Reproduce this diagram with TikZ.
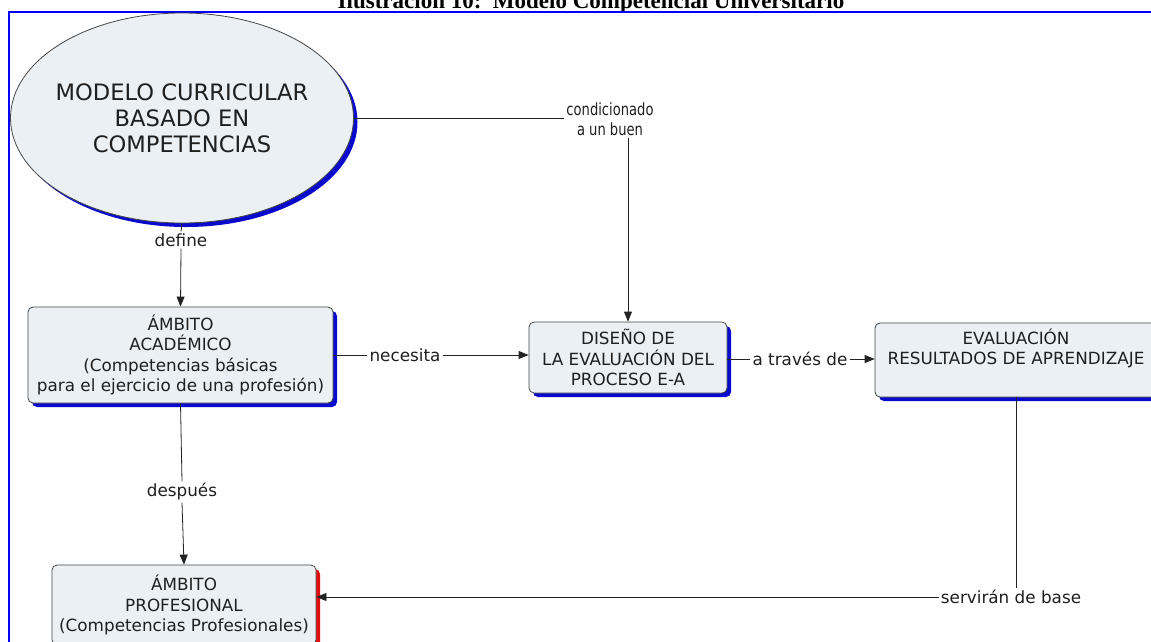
\documentclass[tikz,border=0pt]{standalone}
\usepackage{fontspec}
\setmainfont{DejaVu Sans}
\newfontfamily\titlefont{Liberation Serif}
\usetikzlibrary{shapes.geometric,shadows,arrows.meta}

\definecolor{nodefill}{RGB}{234,240,244}
\definecolor{nodeline}{RGB}{70,70,70}
\definecolor{shblue}{RGB}{10,10,205}
\definecolor{shred}{RGB}{225,15,15}
\definecolor{linkgray}{RGB}{35,35,35}
\definecolor{frameblue}{RGB}{0,0,245}

\begin{document}
\begin{tikzpicture}[x=1pt,y=-1pt,
  txt/.style={font=\fontsize{16.8}{20.5}\selectfont, text=black!88},
  concept/.style={txt, draw=nodeline, line width=0.8pt, fill=nodefill,
    rounded corners=5pt, align=center, inner sep=0pt},
  blueshadow/.style={drop shadow={shadow xshift=4pt, shadow yshift=-4pt,
    fill=shblue, opacity=1}},
  redshadow/.style={drop shadow={shadow xshift=4pt, shadow yshift=-4pt,
    fill=shred, opacity=1}},
  linklabel/.style={txt, inner sep=2pt, align=center},
  link/.style={draw=linkgray, line width=0.8pt},
  arr/.style={link, -{Triangle[length=10pt,width=8pt]}}
]
\useasboundingbox (0,0) rectangle (1151,641);
\clip (0,0) rectangle (1151,641);
\fill[white] (0,0) rectangle (1151,641);

% caption above the frame
\node[anchor=base, font=\titlefont\bfseries\fontsize{23}{26}\selectfont, inner sep=0pt]
  (title) at (591,8) {Ilustración 10:\ \ Modelo Competencial Universitario};

% frame
\draw[frameblue, line width=2.2pt] (9,700) -- (9,12) -- (1200,12);

% concepts
\node[ellipse, draw=nodeline, line width=0.8pt, fill=nodefill, blueshadow,
  minimum width=343pt, minimum height=210pt, inner sep=0pt]
  (ell) at (182,118) {};
\node[align=center, inner sep=0pt, font=\fontsize{22.6}{26}\selectfont, text=black!88]
  (ellt) at (ell.center) {MODELO CURRICULAR\\BASADO EN\\COMPETENCIAS};

\node[concept, blueshadow, minimum width=305pt, minimum height=96pt]
  (aca) at (180.5,355) {ÁMBITO\\ACADÉMICO\\(Competencias básicas\\para el ejercicio de una profesión)};

\node[concept, blueshadow, minimum width=198pt, minimum height=71pt]
  (dis) at (628,357.5) {DISEÑO DE\\LA EVALUACIÓN DEL\\PROCESO E-A};

\node[concept, blueshadow, minimum width=282pt, minimum height=74pt]
  (eva) at (1016,360) {EVALUACIÓN\\RESULTADOS DE APRENDIZAJE\\\strut};

\node[concept, redshadow, minimum width=264pt, minimum height=80pt]
  (pro) at (184,605) {ÁMBITO\\PROFESIONAL\\(Competencias Profesionales)};

% link labels
\node[linklabel] (l1) at (610,119)
  {\scalebox{0.78}[1]{condicionado}\\\scalebox{0.78}[1]{a un buen}};
\node[linklabel] (l2) at (181,240) {define};
\node[linklabel] (l3) at (405,355) {necesita};
\node[linklabel] (l4) at (800,359) {a través de};
\node[linklabel] (l5) at (182,492) {después};
\node[linklabel] (l6) at (1011,597) {servirán de base};

% connectors
\draw[link] (ell.east) -- (ell.east -| l1.west);
\draw[arr] (l1.south -| dis.north) -- (dis.north);
\draw[link] (ell.south) -- (l2.north);
\draw[arr] (l2.south) -- (aca.north);
\draw[link] (aca.east |- l3.west) -- (l3.west);
\draw[arr] (l3.east) -- (l3.east -| dis.west);
\draw[link] (dis.east |- l4.west) -- (l4.west);
\draw[arr] (l4.east) -- (l4.east -| eva.west);
\draw[link] (aca.south) -- (l5.north);
\draw[arr] (l5.south) -- (pro.north);
\draw[link] (eva.south) -- (eva.south |- l6.north);
\draw[arr] (l6.west) -- (l6.west -| pro.east);
\end{tikzpicture}
\end{document}
